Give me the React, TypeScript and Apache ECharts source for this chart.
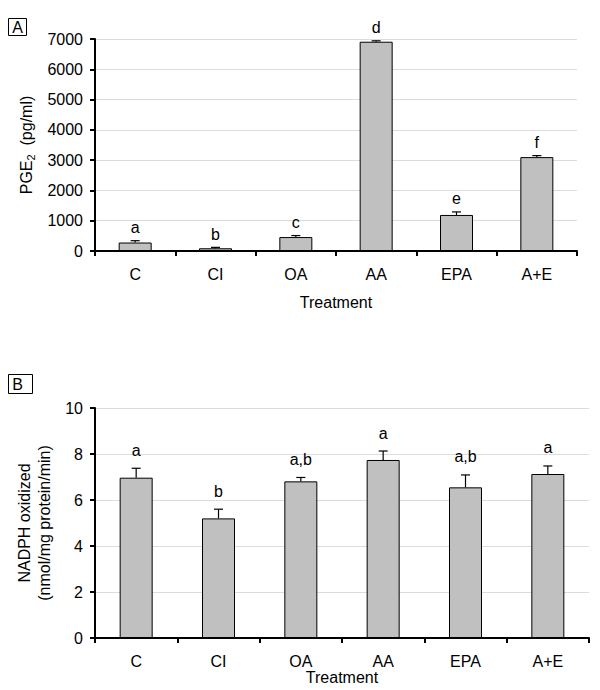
import React, { useEffect, useRef } from "react";
import * as echarts from "echarts";

const categories = ["C", "CI", "OA", "AA", "EPA", "A+E"];

const pgeMeans = [280, 90, 460, 6910, 1190, 3100];
const pgeErrors = [60, 30, 50, 30, 100, 50];
const pgeLetters = ["a", "b", "c", "d", "e", "f"];

const nadphMeans = [6.97, 5.2, 6.81, 7.74, 6.55, 7.13];
const nadphErrors = [0.41, 0.4, 0.17, 0.39, 0.54, 0.35];
const nadphLetters = ["a", "b", "a,b", "a", "a,b", "a"];

const FONT = "'Liberation Sans', Arial, Helvetica, sans-serif";
const FS = 16;

function errorSeries(
  idx: number,
  means: number[],
  errors: number[],
  letters: string[],
  gap: number
) {
  return {
    type: "custom",
    xAxisIndex: idx,
    yAxisIndex: idx,
    z: 5,
    data: means.map((m, i) => [i, m, errors[i]]),
    encode: { x: 0, y: 1 },
    renderItem: (params: any, api: any) => {
      const i = api.value(0);
      const m = api.value(1);
      const e = api.value(2);
      const base = api.coord([i, m]);
      const top = api.coord([i, m + e]);
      const half = 4.5;
      return {
        type: "group",
        children: [
          {
            type: "line",
            shape: { x1: base[0], y1: base[1], x2: top[0], y2: top[1] },
            style: { stroke: "#000", lineWidth: 1.2 },
          },
          {
            type: "line",
            shape: { x1: top[0] - half, y1: top[1], x2: top[0] + half, y2: top[1] },
            style: { stroke: "#000", lineWidth: 1.2 },
          },
          {
            type: "text",
            x: top[0],
            y: top[1] - gap,
            style: {
              text: letters[params.dataIndex],
              align: "center",
              verticalAlign: "bottom",
              fontSize: FS,
              fontFamily: FONT,
              fill: "#000",
            },
          },
        ],
      };
    },
  };
}

function xAxisCfg(gridIndex: number, nameGap: number) {
  return {
    type: "category",
    gridIndex,
    data: categories,
    boundaryGap: true,
    name: "Treatment",
    nameLocation: "middle",
    nameGap,
    nameTextStyle: { fontSize: FS, fontFamily: FONT, color: "#000" },
    axisLine: { show: true, lineStyle: { color: "#000", width: 2 } },
    axisTick: { show: true, length: 5, lineStyle: { color: "#000", width: 2 } },
    axisLabel: { fontSize: FS, fontFamily: FONT, color: "#000", margin: 15, interval: 0 },
    splitLine: { show: false },
  };
}

function yAxisCfg(gridIndex: number, max: number, interval: number, name: string, nameGap: number, rich?: any) {
  return {
    type: "value",
    gridIndex,
    min: 0,
    max,
    interval,
    name,
    nameLocation: "middle",
    nameRotate: 90,
    nameGap,
    nameTextStyle: {
      fontSize: FS,
      fontFamily: FONT,
      color: "#000",
      lineHeight: 20,
      rich,
    },
    axisLine: { show: true, lineStyle: { color: "#000", width: 2 } },
    axisTick: { show: true, length: 5, lineStyle: { color: "#000", width: 2 } },
    axisLabel: {
      fontSize: FS,
      fontFamily: FONT,
      color: "#000",
      margin: 12,
      formatter: (v: number) => String(v),
    },
    splitLine: { show: true, lineStyle: { color: "#dcdcdc", width: 1 } },
  };
}

export default function App() {
  const ref = useRef<HTMLDivElement>(null);
  useEffect(() => {
    document.body.style.margin = "0";
    const chart = echarts.init(ref.current!, undefined, { renderer: "svg" });
    chart.setOption({
      animation: false,
      backgroundColor: "#fff",
      grid: [
        { left: 95, top: 39, width: 482, height: 212 },
        { left: 95, top: 408, width: 494, height: 230 },
      ],
      xAxis: [xAxisCfg(0, 43), xAxisCfg(1, 30)],
      yAxis: [
        yAxisCfg(0, 7000, 1000, "{m|PGE}{s|2}{m|  (pg/ml)}", 51, {
          m: { fontSize: FS, fontFamily: FONT, color: "#000" },
          s: { fontSize: 11, fontFamily: FONT, color: "#000", verticalAlign: "bottom", padding: [7, 0, 0, 0] },
        }),
        yAxisCfg(1, 10, 2, "NADPH oxidized\n(nmol/mg protein/min)", 38),
      ],
      series: [
        {
          type: "bar",
          xAxisIndex: 0,
          yAxisIndex: 0,
          data: pgeMeans,
          barWidth: 33,
          itemStyle: { color: "#c0c0c0", borderColor: "#000", borderWidth: 1 },
        },
        errorSeries(0, pgeMeans, pgeErrors, pgeLetters, 5),
        {
          type: "bar",
          xAxisIndex: 1,
          yAxisIndex: 1,
          data: nadphMeans,
          barWidth: 33,
          itemStyle: { color: "#c0c0c0", borderColor: "#000", borderWidth: 1 },
        },
        errorSeries(1, nadphMeans, nadphErrors, nadphLetters, 10),
      ],
      graphic: [
        {
          type: "group",
          left: 8,
          top: 18,
          children: [
            { type: "rect", shape: { x: 0, y: 0, width: 18, height: 17 }, style: { fill: "#fff", stroke: "#000", lineWidth: 1 } },
            { type: "text", x: 9, y: 9, style: { text: "A", align: "center", verticalAlign: "middle", fontSize: FS, fontFamily: FONT, fill: "#000" } },
          ],
        },
        {
          type: "group",
          left: 8,
          top: 374,
          children: [
            { type: "rect", shape: { x: 0, y: 0, width: 24, height: 19 }, style: { fill: "#fff", stroke: "#000", lineWidth: 1 } },
            { type: "text", x: 9, y: 10, style: { text: "B", align: "center", verticalAlign: "middle", fontSize: FS, fontFamily: FONT, fill: "#000" } },
          ],
        },
      ],
    });
    return () => chart.dispose();
  }, []);
  return <div ref={ref} style={{ position: "absolute", left: 0, top: 0, width: 600, height: 690 }} />;
}
